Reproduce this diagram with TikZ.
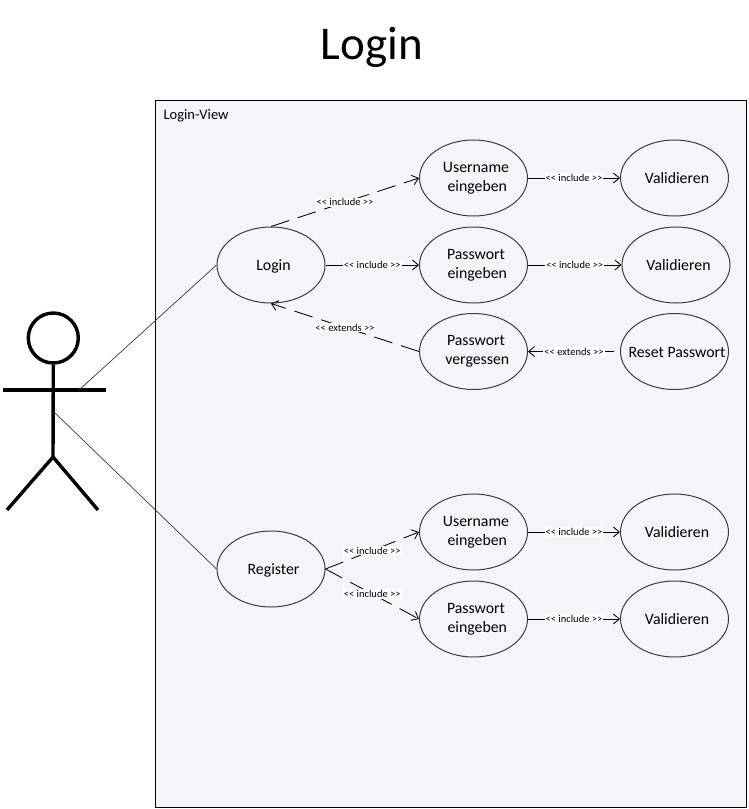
\documentclass[tikz,border=0pt]{standalone}
\usepackage{fontspec}
\setmainfont{Carlito}[Ligatures=TeXOff]
\usetikzlibrary{arrows.meta,shapes.geometric}
\definecolor{viewfill}{HTML}{F5F4FA}
\definecolor{arcgray}{HTML}{3C3C3C}
\newcommand{\lineB}{\hspace*{2.5pt}}
\tikzset{
>={Straight Barb[length=6pt,width=10pt]},
USECASE/.style ={draw=arcgray,ellipse,line width=0.35mm,inner sep=0pt,minimum width=108,minimum height=76,align=center,font=\fontsize{15.8}{19}\selectfont,execute at begin node={\rule[-3pt]{0pt}{17pt}\hspace*{5pt}}},
ACTOR/.style ={draw=black,line cap=butt,line width=1.2mm},
ASSOC/.style ={draw=arcgray,line width=0.25mm},
INC/.style ={draw=black,line width=0.3mm,->},
DASHED/.style ={INC,dash pattern=on 19pt off 9pt},
TAG/.style ={fill=white,inner sep=1pt,font=\fontsize{10.5}{11}\selectfont},
}
\begin{document}
\begin{tikzpicture}
[x=1pt, y=-1pt]
	\useasboundingbox (0,0) rectangle (748,809);
	\node (title) at (372,47.5) {\fontsize{47}{50}\selectfont Login};
	\path[draw=black,line width=0.3mm,fill=viewfill] (155.5,100.5) rectangle (746.5,807.5);
	\node[anchor=west,font=\fontsize{14.5}{15}\selectfont] (view) at (160,116) {Login-View};
	% actor
	\node[draw=black,circle,line width=1.2mm,minimum size=50,inner sep=0pt] (head) at (53.3,338) {};
	\coordinate (hip) at (53,457);
	\coordinate (armL) at (3,390);
	\coordinate (armR) at (106,390);
	\coordinate (shoulder) at (79,390);
	\coordinate (belly) at (54,412);
	\path[ACTOR] (head.south) -- (hip);
	\path[ACTOR] (armL) -- (armR);
	\path[ACTOR] (7,510) -- (hip) -- (98,510);
	% use cases
	\node[USECASE] (login) at (271,265) {Login};
	\node[USECASE] (user) at (473.5,178) {Username\\\lineB eingeben};
	\node[USECASE] (pass) at (473.5,265) {Passwort\\\lineB eingeben};
	\node[USECASE] (forgot) at (473.5,351.5) {Passwort\\\lineB vergessen};
	\node[USECASE] (valA) at (674.5,178) {Validieren};
	\node[USECASE] (valB) at (676,265) {Validieren};
	\node[USECASE] (reset) at (674.5,351.5) {\makebox[60pt]{Reset Passwort}};
	\node[USECASE] (register) at (271,569) {Register};
	\node[USECASE] (userR) at (473.5,532) {Username\\\lineB eingeben};
	\node[USECASE] (passR) at (473.5,619) {Passwort\\\lineB eingeben};
	\node[USECASE] (valC) at (674.5,532) {Validieren};
	\node[USECASE] (valD) at (674.5,619) {Validieren};
	% connectors
	\path[ASSOC] (shoulder) -- (login.west);
	\path[ASSOC] (belly) -- (register.west);
	\path[DASHED] (login.north) -- node[TAG] (tA) {<< include >>} (user.west);
	\path[INC] (login.east) -- node[TAG] (tB) {<< include >>} (pass.west);
	\path[DASHED] (forgot.west) -- node[TAG] (tC) {<< extends >>} (login.south);
	\path[INC] (user.east) -- node[TAG] (tD) {<< include >>} (valA.west);
	\path[INC] (pass.east) -- node[TAG] (tE) {<< include >>} (valB.west);
	\path[INC,shorten <=6pt] (reset.west) -- node[TAG] (tF) {<< extends >>} (forgot.east);
	\path[DASHED] (register.east) -- node[TAG] (tG) {<< include >>} (userR.west);
	\path[DASHED] (register.east) -- node[TAG] (tH) {<< include >>} (passR.west);
	\path[INC] (userR.east) -- node[TAG] (tI) {<< include >>} (valC.west);
	\path[INC] (passR.east) -- node[TAG] (tJ) {<< include >>} (valD.west);
\end{tikzpicture}
\end{document}
